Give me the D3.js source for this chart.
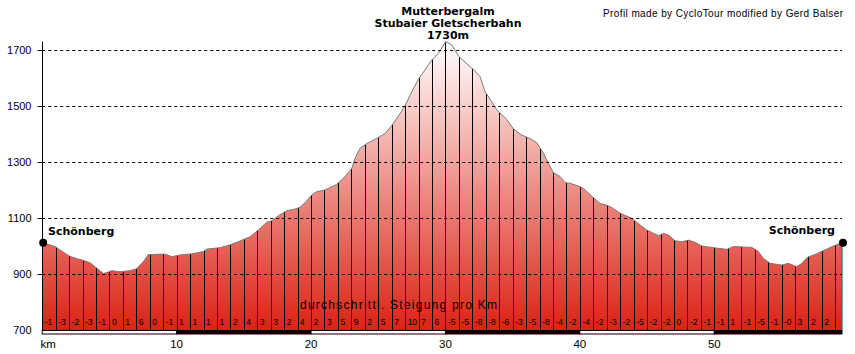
<!DOCTYPE html>
<html>
<head>
<meta charset="utf-8">
<script src="https://cdn.jsdelivr.net/npm/d3@7"></script>
<style>
  html, body { margin: 0; padding: 0; background: #fff; }
  svg { display: block; }
</style>
</head>
<body>
<svg id="chart" width="855" height="354"></svg>
<script>
// ---- data ----
const distKm = [0, 0.58, 1.0, 1.32, 2.02, 2.57, 2.98, 3.56, 3.93, 4.55, 4.8, 5.17, 5.79, 6.53, 7.03, 7.52, 7.89,
  8.89, 9.14, 9.64, 10.25, 11.0, 11.99, 12.24, 13.23, 13.97, 14.72, 15.46, 16.08, 16.7, 17.08, 17.57, 18.19,
  18.81, 19.18, 19.68, 20.05, 20.42, 21.04, 21.91, 22.53, 23.03, 23.27, 23.65, 24.15, 24.89, 25.51, 26.0,
  26.5, 26.99, 27.37, 27.98, 28.48, 28.98, 29.47, 30.02, 30.47, 30.96, 31.83, 32.08, 32.57, 32.95, 33.45,
  33.82, 34.56, 35.06, 35.68, 36.29, 36.79, 37.29, 37.66, 38.03, 38.53, 38.9, 39.27, 39.89, 40.26, 41.0,
  41.5, 42.0, 42.49, 42.99, 43.86, 44.48, 44.98, 45.84, 46.21, 46.59, 47.08, 47.58, 48.07, 48.57, 49.07,
  49.93, 50.93, 51.42, 52.79, 53.28, 53.65, 54.15, 55.02, 55.51, 56.14, 56.51, 56.93, 57.5, 58.37, 58.86,
  59.41, 59.5];
const elevM = [1012, 1004, 997, 986, 964, 955, 950, 940, 926, 902, 905, 912, 908, 912, 919, 944, 969,
  971, 971, 962, 968, 971, 980, 989, 994, 1004, 1018, 1033, 1057, 1085, 1090, 1108, 1126,
  1132, 1138, 1161, 1182, 1194, 1200, 1220, 1248, 1277, 1313, 1349, 1366, 1384, 1402, 1430,
  1464, 1500, 1539, 1595, 1629, 1664, 1688, 1730, 1718, 1679, 1640, 1631, 1605, 1551, 1515,
  1486, 1452, 1418, 1396, 1384, 1369, 1331, 1295, 1262, 1248, 1226, 1224, 1214, 1206, 1173,
  1152, 1146, 1134, 1117, 1099, 1075, 1057, 1037, 1045, 1039, 1019, 1015, 1021, 1013, 1000,
  994, 988, 998, 995, 980, 956, 938, 932, 938, 926, 938, 960, 970, 989, 1000,
  1010, 1012];
// average gradient per km (%)
const gradients = [-1, -3, -2, -3, -1, 0, 1, 6, 0, -1,
  1, 1, 1, 1, 2, 4, 3, 3, 2, 4,
  2, 3, 5, 9, 2, 5, 7, 10, 7, 6,
  -5, -5, -8, -8, -6, -3, -5, -8, -4, -2,
  -4, -2, -3, -2, -5, -2, -2, 0, -2, -1,
  -1, 1, -1, -5, -1, -0, 3, 2, 2];
const yTicks = [700, 900, 1100, 1300, 1500, 1700];
const xTicks = [10, 20, 30, 40, 50];
const summitLines = ["Mutterbergalm", "Stubaier Gletscherbahn", "1730m"];
const startName = "Schönberg";
const endName = "Schönberg";
const credit = "Profil made by CycloTour modified by Gerd Balser";
const gradientCaption = "durchschrittl. Steigung pro Km";

// ---- layout ----
const svg = d3.select("#chart");
const X0 = 42.2, X1 = 842, YB = 330;
const totalKm = distKm[distKm.length - 1];
const x = d3.scaleLinear().domain([0, totalKm]).range([X0, X1]);
const y = d3.scaleLinear().domain([700, 1730]).range([YB, 41.6]);
const pts = distKm.map((d, i) => [d, elevM[i]]);

// gradient fill
const defs = svg.append("defs");
const lg = defs.append("linearGradient").attr("id", "fillGrad")
  .attr("gradientUnits", "userSpaceOnUse")
  .attr("x1", 0).attr("x2", 0).attr("y1", y(1730)).attr("y2", YB);
lg.append("stop").attr("offset", "0%").attr("stop-color", "#ffffff");
lg.append("stop").attr("offset", "100%").attr("stop-color", "#dc2214");

const area = d3.area().x(d => x(d[0])).y0(YB).y1(d => y(d[1]));
const line = d3.line().x(d => x(d[0])).y(d => y(d[1]));

defs.append("clipPath").attr("id", "profClip")
  .append("path").attr("d", area(pts));

svg.append("path").attr("d", area(pts)).attr("fill", "url(#fillGrad)");

// km lines inside profile
const kmIdx = d3.range(1, Math.floor(totalKm) + 1);
svg.append("g").attr("clip-path", "url(#profClip)")
  .selectAll("line").data(kmIdx).join("line")
  .attr("x1", d => Math.round(x(d)) + 0.5).attr("x2", d => Math.round(x(d)) + 0.5)
  .attr("y1", 30).attr("y2", YB)
  .attr("stroke", "#000").attr("stroke-width", 1);

// right edge teal line
svg.append("line")
  .attr("x1", x(totalKm)).attr("x2", x(totalKm))
  .attr("y1", y(elevM[elevM.length - 1])).attr("y2", YB)
  .attr("stroke", "#008080").attr("stroke-width", 1.2);

// profile outline
svg.append("path").attr("d", line(pts)).attr("fill", "none")
  .attr("stroke", "#7a7a7a").attr("stroke-width", 1);

// dashed grid
svg.append("g").selectAll("line").data(yTicks.filter(v => v > 700)).join("line")
  .attr("x1", X0).attr("x2", X1)
  .attr("y1", d => Math.round(y(d)) + 0.5).attr("y2", d => Math.round(y(d)) + 0.5)
  .attr("stroke", "#000").attr("stroke-width", 1).attr("stroke-dasharray", "3,3");

// y axis
const yAxis = d3.axisLeft(y).tickValues(yTicks).tickSize(5).tickPadding(6).tickFormat(d3.format("d"));
const gy = svg.append("g").attr("transform", `translate(${Math.round(X0) + 0.5},0)`).call(yAxis);
gy.select(".domain").remove();
gy.selectAll(".tick line").attr("stroke", "#000").filter(d => d === 700).remove();
gy.selectAll(".tick text").attr("font-family", "Liberation Sans, Arial, sans-serif")
  .attr("font-size", "11px").attr("fill", "#000");
svg.append("line").attr("x1", Math.round(X0) + 0.5).attr("x2", Math.round(X0) + 0.5)
  .attr("y1", y(1730)).attr("y2", YB).attr("stroke", "#000").attr("stroke-width", 1);

// gradient labels
svg.append("g").selectAll("text").data(gradients).join("text")
  .attr("x", (d, i) => x(i) + 2.5).attr("y", 325)
  .attr("font-family", "Liberation Sans, Arial, sans-serif").attr("font-size", "8.5px")
  .attr("fill", "#000")
  .text(d => Object.is(d, -0) ? "-0" : String(d));

svg.append("text").attr("x", 300).attr("y", 308.5)
  .attr("font-family", "Liberation Sans, Arial, sans-serif").attr("font-size", "12px")
  .attr("textLength", 197).attr("lengthAdjust", "spacing")
  .attr("fill", "#000").text(gradientCaption);

// km bar
const segs = d3.range(0, Math.ceil(totalKm / 10)).map(i => [i * 10, Math.min((i + 1) * 10, totalKm)]);
svg.append("g").selectAll("rect").data(segs).join("rect")
  .attr("x", d => x(d[0])).attr("width", d => x(d[1]) - x(d[0]))
  .attr("y", YB + 0.5).attr("height", 3.5)
  .attr("fill", (d, i) => i % 2 ? "#000" : "#fff")
  .attr("stroke", "#000").attr("stroke-width", 1);

// x labels
const xl = svg.append("g").attr("font-family", "Liberation Sans, Arial, sans-serif")
  .attr("font-size", "11.5px").attr("fill", "#000");
xl.selectAll("text").data(xTicks).join("text")
  .attr("x", d => x(d)).attr("y", 348).attr("text-anchor", "middle").text(d => d);
xl.append("text").attr("x", 40.5).attr("y", 348).text("km");

// endpoint dots
svg.append("g").selectAll("circle").data([pts[0], pts[pts.length - 1]]).join("circle")
  .attr("cx", d => x(d[0]) + 1).attr("cy", d => y(d[1])).attr("r", 4).attr("fill", "#000");

// place names
const bold = "DejaVu Sans, Verdana, sans-serif";
svg.append("text").attr("x", 48).attr("y", 235).attr("font-family", bold).attr("font-weight", "bold")
  .attr("font-size", "11px").attr("fill", "#000").text(startName);
svg.append("text").attr("x", 835).attr("y", 234).attr("text-anchor", "end").attr("font-family", bold)
  .attr("font-weight", "bold").attr("font-size", "11px").attr("fill", "#000").text(endName);

svg.append("g").selectAll("text").data(summitLines).join("text")
  .attr("x", 448).attr("y", (d, i) => 15 + i * 11.8).attr("text-anchor", "middle")
  .attr("font-family", bold).attr("font-weight", "bold").attr("font-size", "11px")
  .attr("fill", "#000").text(d => d);

svg.append("text").attr("x", 603).attr("y", 16.5)
  .attr("font-family", "Liberation Sans, Arial, sans-serif").attr("font-size", "10px")
  .attr("textLength", 240).attr("lengthAdjust", "spacing")
  .attr("fill", "#000").text(credit);
</script>
</body>
</html>
